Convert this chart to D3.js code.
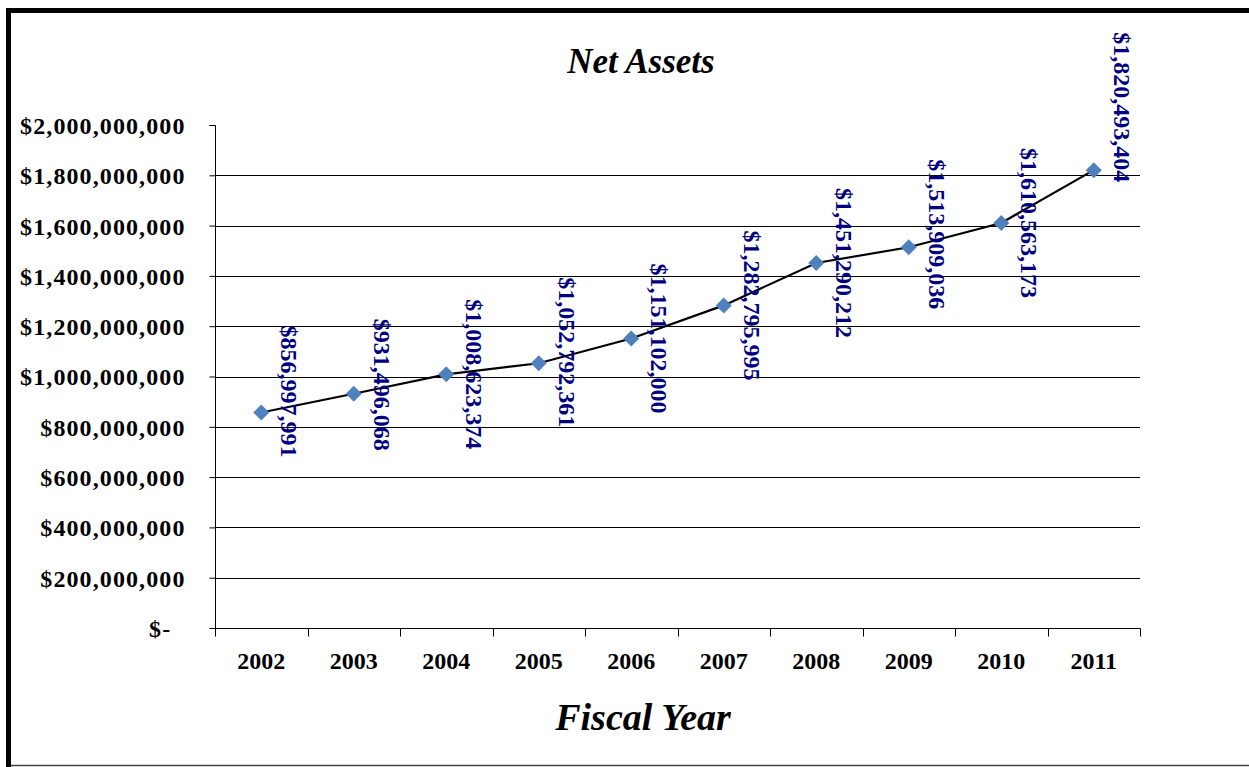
<!DOCTYPE html>
<html>
<head>
<meta charset="utf-8">
<script src="https://cdn.jsdelivr.net/npm/d3@7"></script>
<style>
  html, body { margin: 0; padding: 0; background: #fff; }
  svg { display: block; }
  text { font-family: "Liberation Serif", "Times New Roman", serif; font-weight: bold; }
</style>
</head>
<body>
<svg id="chart" width="1249" height="767"></svg>
<script>
// Net assets by fiscal year
const years = ["2002", "2003", "2004", "2005", "2006", "2007", "2008", "2009", "2010", "2011"];
const netAssets = [856997991, 931496068, 1008623374, 1052792361, 1151102000,
                   1282795995, 1451290212, 1513909036, 1610563173, 1820493404];
const yTicks = [0, 200000000, 400000000, 600000000, 800000000, 1000000000,
                1200000000, 1400000000, 1600000000, 1800000000, 2000000000];

const svg = d3.select("#chart");
const W = 1249, H = 767;
const plot = { left: 215, right: 1140, top: 125, bottom: 628 };

// Outer chart frame
svg.append("rect").attr("x", 0).attr("y", 0).attr("width", W).attr("height", H).attr("fill", "#fff");
svg.append("path")
  .attr("d", `M8.5,${H} L8.5,10.5 L${W + 10},10.5`)
  .attr("fill", "none").attr("stroke", "#000").attr("stroke-width", 5);
svg.append("line")
  .attr("x1", 11).attr("x2", W).attr("y1", 765.5).attr("y2", 765.5)
  .attr("stroke", "#444").attr("stroke-width", 1.5);

const x = d3.scaleBand().domain(years).range([plot.left, plot.right]).padding(0);
const y = d3.scaleLinear().domain([0, 2000000000]).range([plot.bottom, plot.top]);

// Horizontal gridlines (none at the top value)
svg.append("g")
  .selectAll("line")
  .data(yTicks.filter(v => v > 0 && v < 2000000000))
  .join("line")
  .attr("x1", plot.left).attr("x2", plot.right)
  .attr("y1", d => Math.round(y(d)) + 0.5).attr("y2", d => Math.round(y(d)) + 0.5)
  .attr("stroke", "#000").attr("stroke-width", 1);

// Y axis
const fmt = d3.format(",");
const yAxis = d3.axisLeft(y)
  .tickValues(yTicks)
  .tickSize(6)
  .tickPadding(24)
  .tickFormat(d => d === 0 ? "$-\u00A0\u00A0" : "$" + fmt(d));
const gy = svg.append("g").attr("transform", `translate(${plot.left + 0.5},0)`).call(yAxis);
gy.select(".domain").attr("d", `M-6,${plot.top + 0.5}H0V${plot.bottom + 8}`).attr("stroke", "#000");
gy.selectAll(".tick line").attr("stroke", "#000");
gy.selectAll(".tick text")
  .attr("fill", "#000")
  .style("font-size", "24px")
  .style("letter-spacing", "1.1px")
  .attr("dy", "0.35em");

// X axis with ticks on category boundaries
const gx = svg.append("g").attr("transform", `translate(0,${plot.bottom + 0.5})`);
gx.append("line").attr("x1", plot.left).attr("x2", plot.right + 0.5).attr("y1", 0).attr("y2", 0).attr("stroke", "#000");
const boundaries = years.map(d => x(d)).concat([x(years[years.length - 1]) + x.bandwidth()]);
gx.selectAll("line.tk").data(boundaries).join("line").attr("class", "tk")
  .attr("x1", d => Math.round(d) + 0.5).attr("x2", d => Math.round(d) + 0.5)
  .attr("y1", 0).attr("y2", 8).attr("stroke", "#000");
gx.selectAll("text").data(years).join("text")
  .attr("x", d => x(d) + x.bandwidth() / 2)
  .attr("y", 40)
  .attr("text-anchor", "middle")
  .style("font-size", "24px")
  .attr("fill", "#000")
  .text(d => d);

// Line series
const pts = years.map((yr, i) => ({ yr, v: netAssets[i], cx: x(yr) + x.bandwidth() / 2, cy: y(netAssets[i]) }));
svg.append("path")
  .datum(pts)
  .attr("fill", "none")
  .attr("stroke", "#000")
  .attr("stroke-width", 2.2)
  .attr("d", d3.line().x(d => d.cx).y(d => d.cy));

// Diamond markers
svg.append("g").selectAll("path").data(pts).join("path")
  .attr("transform", d => `translate(${d.cx},${d.cy})`)
  .attr("d", "M0,-8L8,0L0,8L-8,0Z")
  .attr("fill", "#4F81BD");

// Rotated value labels to the right of each point
const labelNudge = { "2002": -21, "2003": -9, "2005": -11, "2009": -13, "2011": -63 };
svg.append("g").selectAll("text").data(pts).join("text")
  .attr("transform", d => `translate(${d.cx + 28},${d.cy + (labelNudge[d.yr] || 0)}) rotate(90)`)
  .attr("text-anchor", "middle")
  .attr("dy", "0.33em")
  .style("font-size", "24px")
  .attr("fill", "#000080")
  .text(d => "$" + fmt(d.v));

// Titles
svg.append("text")
  .attr("x", 641).attr("y", 73)
  .attr("text-anchor", "middle")
  .style("font-size", "35px").style("font-style", "italic")
  .attr("fill", "#000")
  .text("Net Assets");
svg.append("text")
  .attr("x", 643).attr("y", 730)
  .attr("text-anchor", "middle")
  .style("font-size", "38px").style("font-style", "italic")
  .attr("fill", "#000")
  .text("Fiscal Year");
</script>
</body>
</html>
